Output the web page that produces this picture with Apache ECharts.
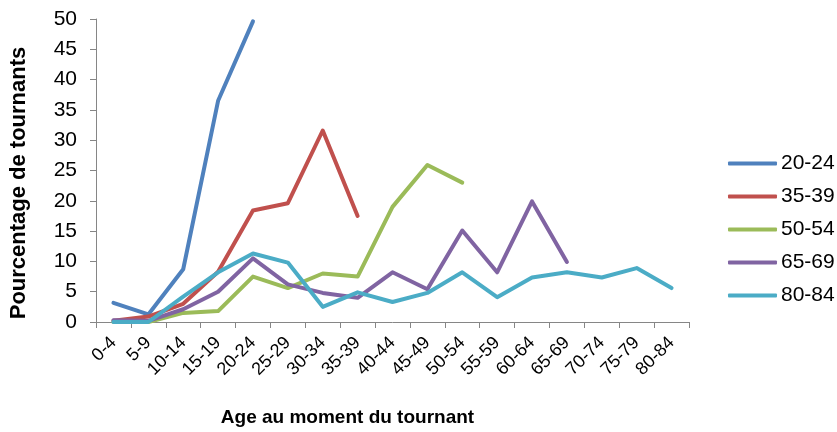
<!DOCTYPE html>
<html>
<head>
<meta charset="utf-8">
<script src="https://cdn.jsdelivr.net/npm/echarts@6/dist/echarts.min.js"></script>
<style>html,body{margin:0;padding:0;background:#fff}#c{width:837px;height:432px}</style>
</head>
<body>
<div id="c"></div>
<script>
var categories = ['0-4','5-9','10-14','15-19','20-24','25-29','30-34','35-39','40-44','45-49','50-54','55-59','60-64','65-69','70-74','75-79','80-84'];
var seriesNames = ['20-24','35-39','50-54','65-69','80-84'];
var s2024 = [3.15, 1.25, 8.7, 36.5, 49.6];
var s3539 = [0.2, 0.9, 3.0, 8.3, 18.4, 19.6, 31.6, 17.5];
var s5054 = [0, 0, 1.5, 1.8, 7.5, 5.6, 8.0, 7.5, 19.0, 25.9, 23.0];
var s6569 = [0.3, 0.2, 2.1, 5.0, 10.5, 6.2, 4.8, 4.0, 8.2, 5.4, 15.1, 8.2, 19.9, 9.9];
var s8084 = [0, 0, 4.2, 8.2, 11.3, 9.8, 2.5, 4.9, 3.3, 4.8, 8.2, 4.1, 7.35, 8.2, 7.35, 8.9, 5.6];
var yTicks = [0, 5, 10, 15, 20, 25, 30, 35, 40, 45, 50];
var colors = ['#4F81BD', '#C0504D', '#9BBB59', '#8064A2', '#4BACC6'];
var allData = [s2024, s3539, s5054, s6569, s8084];

var font = 'Liberation Sans, Arial, sans-serif';
var chart = echarts.init(document.getElementById('c'));
chart.setOption({
  animation: false,
  color: colors,
  grid: { left: 92, top: 19, right: 148, bottom: 106, containLabel: false },
  legend: {
    orient: 'vertical',
    left: 723,
    top: 148,
    itemWidth: 49,
    itemHeight: 4,
    itemGap: 12,
    icon: 'roundRect',
    data: seriesNames,
    textStyle: { fontFamily: font, fontSize: 21, color: '#000', lineHeight: 21, padding: [0, 0, 0, -1] }
  },
  xAxis: {
    type: 'category',
    data: categories,
    boundaryGap: true,
    name: 'Age au moment du tournant',
    nameLocation: 'middle',
    nameGap: 86,
    nameTextStyle: { fontFamily: font, fontSize: 19, fontWeight: 'bold', color: '#000', padding: [0, 90, 0, 0] },
    axisLine: { lineStyle: { color: '#868686', width: 1 } },
    axisTick: { show: true, length: 6, alignWithLabel: false, lineStyle: { color: '#868686' } },
    axisLabel: { rotate: 45, interval: 0, fontFamily: font, fontSize: 18, color: '#000', margin: 18 },
    splitLine: { show: false }
  },
  yAxis: {
    type: 'value',
    min: yTicks[0],
    max: yTicks[yTicks.length - 1],
    interval: 5,
    name: 'Pourcentage de tournants',
    nameLocation: 'middle',
    nameGap: 66,
    nameTextStyle: { fontFamily: font, fontSize: 22, fontWeight: 'bold', color: '#000', padding: [0, 25, 0, 0] },
    axisLine: { show: true, lineStyle: { color: '#868686', width: 1 } },
    axisTick: { show: true, length: 6, lineStyle: { color: '#868686' } },
    axisLabel: { fontFamily: font, fontSize: 21, color: '#000', margin: 19 },
    splitLine: { show: false }
  },
  series: seriesNames.map(function (n, i) {
    return {
      name: n,
      type: 'line',
      data: allData[i],
      symbol: 'none',
      showSymbol: false,
      lineStyle: { width: 4, color: colors[i], cap: 'round', join: 'round' },
      itemStyle: { color: colors[i] }
    };
  })
});
</script>
</body>
</html>
